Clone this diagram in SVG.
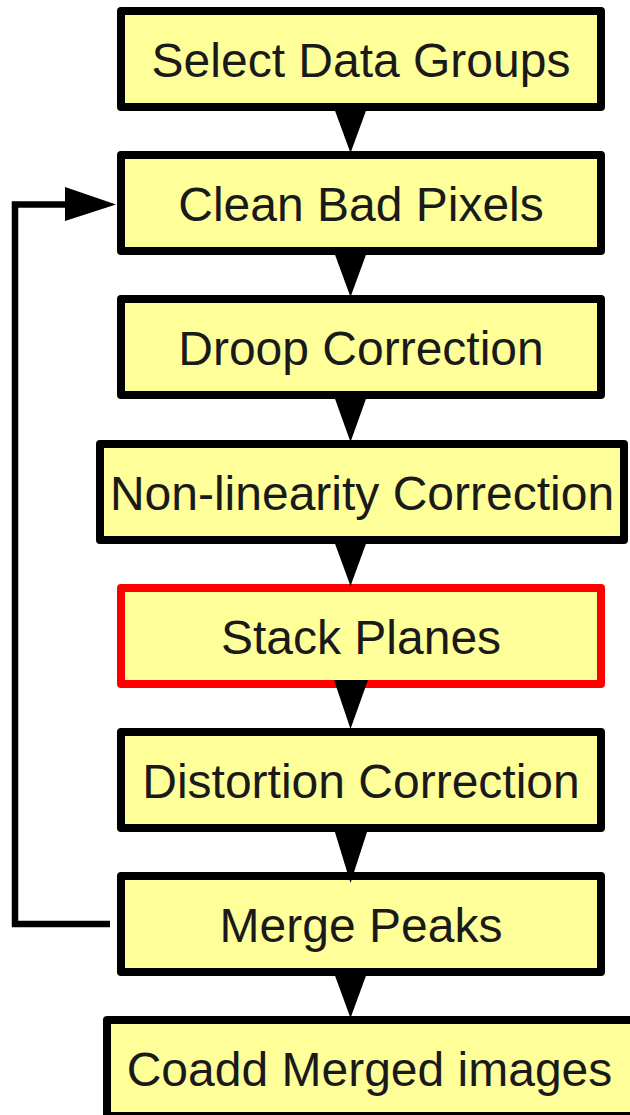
<svg xmlns="http://www.w3.org/2000/svg" width="630" height="1115" viewBox="0 0 630 1115">
  <style>
    .box { fill: #ffff99; stroke: #000000; stroke-width: 8; stroke-linejoin: round; }
    .box.hl { stroke: #ff0000; }
    .lbl { font-family: "Liberation Sans", Arial, sans-serif; font-size: 48px; fill: #1a1a1a; text-anchor: middle; }
    .link { fill: none; stroke: #000000; stroke-width: 6.5; stroke-linejoin: miter; }
    .head { fill: #000000; stroke: none; }
  </style>

  <rect width="630" height="1115" fill="#ffffff"/>

  <!-- processing steps -->
  <g id="node-select">
    <rect class="box" x="121" y="11" width="480" height="96"/>
    <text class="lbl" x="361" y="76.5">Select Data Groups</text>
  </g>
  <g id="node-clean">
    <rect class="box" x="121" y="155" width="480" height="96"/>
    <text class="lbl" x="361" y="220.5">Clean Bad Pixels</text>
  </g>
  <g id="node-droop">
    <rect class="box" x="121" y="299" width="480" height="96"/>
    <text class="lbl" x="361" y="364.5">Droop Correction</text>
  </g>
  <g id="node-nonlin">
    <rect class="box" x="100" y="444" width="524" height="96"/>
    <text class="lbl" x="362" y="509.5">Non-linearity Correction</text>
  </g>
  <g id="node-stack">
    <rect class="box hl" x="121" y="588" width="480" height="96"/>
    <text class="lbl" x="361" y="653.5">Stack Planes</text>
  </g>
  <g id="node-distortion">
    <rect class="box" x="121" y="732" width="480" height="96"/>
    <text class="lbl" x="361" y="797.5">Distortion Correction</text>
  </g>
  <g id="node-merge">
    <rect class="box" x="121" y="876" width="480" height="96"/>
    <text class="lbl" x="361" y="941.5">Merge Peaks</text>
  </g>
  <g id="node-coadd">
    <rect class="box" x="107" y="1020" width="540" height="96"/>
    <text class="lbl" x="369.5" y="1085.5">Coadd Merged images</text>
  </g>

  <!-- connectors -->
  <g id="connectors">
    <polygon class="head" points="334,108 367,108 350.5,153"/>
    <polygon class="head" points="334,252 367,252 350.5,297"/>
    <polygon class="head" points="334,396 367,396 350.5,442"/>
    <polygon class="head" points="334,541 367,541 350.5,586"/>
    <polygon class="head" points="334,680 368,680 350.5,729"/>
    <polygon class="head" points="334,829 368,829 350.5,883"/>
    <polygon class="head" points="334,973 367,973 350.5,1018"/>
    <!-- loop back from Merge Peaks to Clean Bad Pixels -->
    <path class="link" d="M110,924 H15 V204.5 H70"/>
    <polygon class="head" points="65,187 116,204.5 65,221"/>
  </g>
</svg>
